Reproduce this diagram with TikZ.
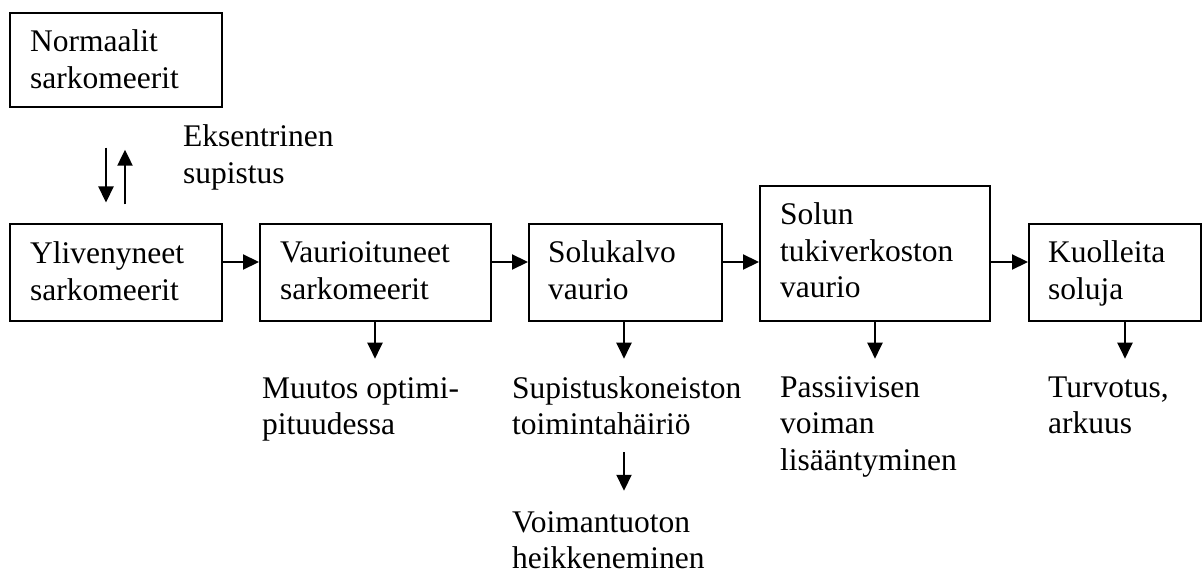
\documentclass[tikz,border=0pt]{standalone}
\usepackage{fontspec}
\setmainfont{Liberation Serif}
\usetikzlibrary{arrows.meta}
\newcommand{\ml}[1]{\begin{tabular}[t]{@{}l@{}}#1\end{tabular}}
\begin{document}
\begin{tikzpicture}[x=1pt,y=-1pt,
  box/.style={draw, line width=1.7pt, inner sep=0pt, anchor=north west},
  txt/.style={anchor=base west, inner sep=0pt, font=\fontsize{31.5}{36.5}\selectfont},
  arr/.style={line width=2.2pt, -{Triangle[length=16pt,width=15pt]}}]
\useasboundingbox (0,0) rectangle (1203,572);
% boxes
\node[box, minimum width=212pt, minimum height=94pt] (norm) at (9,12) {};
\node[box, minimum width=212pt, minimum height=96.5pt] (yli) at (9,223.5) {};
\node[box, minimum width=231pt, minimum height=96.5pt] (vau) at (259,223.5) {};
\node[box, minimum width=193pt, minimum height=96.5pt] (sol) at (528,223.5) {};
\node[box, minimum width=230pt, minimum height=134.5pt] (tuki) at (759,185.5) {};
\node[box, minimum width=172pt, minimum height=96.5pt] (kuo) at (1028,223.5) {};
% box texts
\node[txt] (normt) at (30,52) {\ml{Normaalit\\sarkomeerit}};
\node[txt] (ylit) at (30,264) {\ml{Ylivenyneet\\sarkomeerit}};
\node[txt] (vaut) at (280,263) {\ml{Vaurioituneet\\sarkomeerit}};
\node[txt] (solt) at (548,263) {\ml{Solukalvo\\vaurio}};
\node[txt] (tukit) at (780,225) {\ml{Solun\\tukiverkoston\\vaurio}};
\node[txt] (kuot) at (1048,263) {\ml{Kuolleita\\soluja}};
% free texts
\node[txt] (eks) at (183,147) {\ml{Eksentrinen\\supistus}};
\node[txt] (muu) at (262,398) {\ml{Muutos optimi-\\pituudessa}};
\node[txt] (sup) at (512,398) {\ml{Supistuskoneiston\\toimintahäiriö}};
\node[txt] (voim) at (512,532) {\ml{Voimantuoton\\heikkeneminen}};
\node[txt] (pas) at (780,397) {\ml{Passiivisen\\voiman\\lisääntyminen}};
\node[txt] (tur) at (1048,397) {\ml{Turvotus,\\arkuus}};
% vertical pair
\draw[arr, shorten <=40pt, shorten >=21pt] (norm.south -| 106,0) -- (yli.north -| 106,0);
\draw[arr, shorten <=19pt, shorten >=42pt] (yli.north -| 125,0) -- (norm.south -| 125,0);
% horizontal chain
\draw[arr] (yli.east |- 0,262) -- (vau.west |- 0,262);
\draw[arr] (vau.east |- 0,262) -- (sol.west |- 0,262);
\draw[arr] (sol.east |- 0,262) -- (tuki.west |- 0,262);
\draw[arr] (tuki.east |- 0,262) -- (kuo.west |- 0,262);
% down arrows
\draw[arr] (vau.south -| 375,0) -- ++(0,37);
\draw[arr] (sol.south -| 624,0) -- ++(0,37);
\draw[arr] (tuki.south -| 875,0) -- ++(0,37);
\draw[arr] (kuo.south -| 1125,0) -- ++(0,37);
\draw[arr, shorten <=6.5pt, shorten >=15.5pt] (sup.south -| 624,0) -- (voim.north -| 624,0);
\end{tikzpicture}
\end{document}
